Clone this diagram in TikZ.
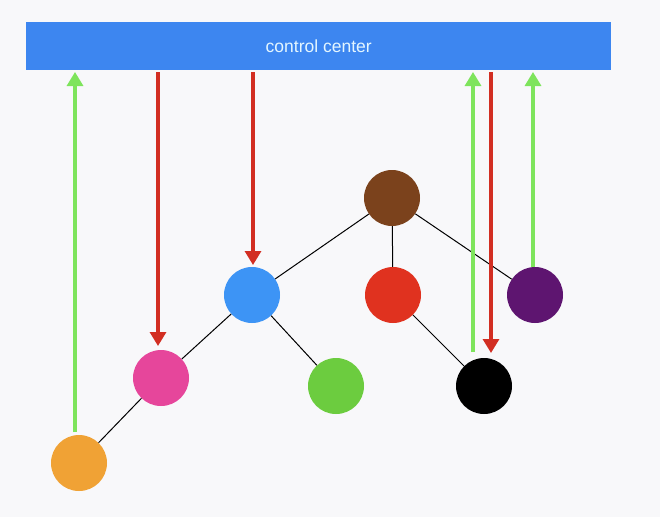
\documentclass[tikz,border=0pt]{standalone}
\usepackage{fontspec}
\setsansfont{Liberation Sans}
\usetikzlibrary{arrows.meta}
\definecolor{barblue}{HTML}{3D86F0}
\definecolor{cbrown}{HTML}{7B421C}
\definecolor{cblue}{HTML}{3D94F5}
\definecolor{cred}{HTML}{E0321F}
\definecolor{cpurple}{HTML}{5E1570}
\definecolor{cpink}{HTML}{E6469B}
\definecolor{cgreen}{HTML}{6CCC3F}
\definecolor{corange}{HTML}{F0A235}
\definecolor{agreen}{HTML}{7EE45C}
\definecolor{ared}{HTML}{D22E22}
\definecolor{bg}{HTML}{F8F8FA}
\definecolor{txt}{HTML}{E4F6FF}
\tikzset{
  dot/.style={circle, minimum size=56pt, inner sep=0pt, fill=#1},
  edge/.style={draw=black, line width=1pt},
  upar/.style={draw=agreen, line width=3.2pt, -{Triangle[width=16pt,length=14pt]}},
  downar/.style={draw=ared, line width=3.2pt, -{Triangle[width=16pt,length=14pt]}},
}
\begin{document}
\begin{tikzpicture}[x=1pt,y=-1pt]
\fill[bg] (0,0) rectangle (660,517);
\useasboundingbox (0,0) rectangle (660,517);
\node[fill=barblue, minimum width=585pt, minimum height=48pt, inner sep=0pt, anchor=north west,
      font=\sffamily\fontsize{17.5}{20}\selectfont, text=txt] (cc) at (26,22) {control center};

\node[dot=cbrown] (br) at (392,198) {};
\node[dot=cblue] (bl) at (252,295) {};
\node[dot=cred] (rd) at (393,295) {};
\node[dot=cpurple] (pu) at (535,295) {};
\node[dot=cpink] (pk) at (161,378) {};
\node[dot=cgreen] (gr) at (336,386) {};
\node[dot=black] (bk) at (484,386) {};
\node[dot=corange] (or) at (79,463) {};

\draw[edge] (br) -- (bl);
\draw[edge] (br) -- (rd);
\draw[edge] (br) -- (pu);
\draw[edge] (bl) -- (pk);
\draw[edge] (bl) -- (gr);
\draw[edge] (rd) -- (bk);
\draw[edge] (pk) -- (or);

\coordinate (g1s) at (75,432);
\coordinate (g1e) at (75,72);
\coordinate (r1s) at (158,72);
\coordinate (r1e) at (158,346);
\coordinate (r2s) at (253,72);
\coordinate (r2e) at (253,265);
\coordinate (g2s) at (473,352);
\coordinate (g2e) at (473,72);
\coordinate (r3s) at (491,72);
\coordinate (r3e) at (491,353);
\coordinate (g3s) at (533,267);
\coordinate (g3e) at (533,72);

\draw[upar] (g1s) -- (g1e);
\draw[downar] (r1s) -- (r1e);
\draw[downar] (r2s) -- (r2e);
\draw[upar] (g2s) -- (g2e);
\draw[downar] (r3s) -- (r3e);
\draw[upar] (g3s) -- (g3e);
\end{tikzpicture}
\end{document}
